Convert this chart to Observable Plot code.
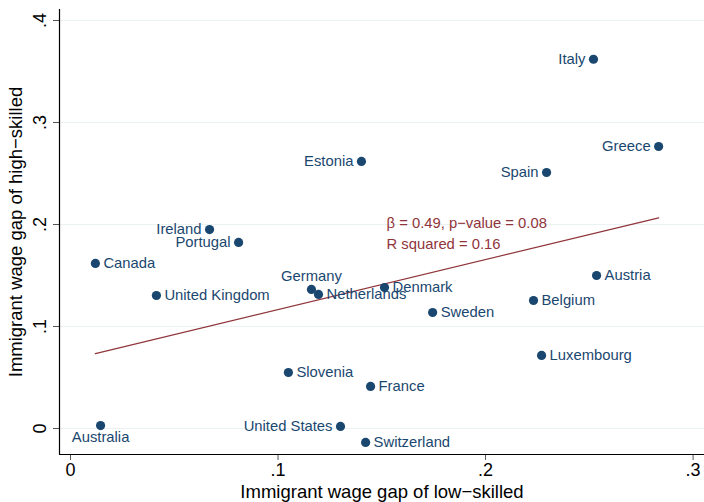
<!DOCTYPE html>
<html>
<head>
<meta charset="utf-8">
<script src="https://cdn.jsdelivr.net/npm/d3@7"></script>
<script src="https://cdn.jsdelivr.net/npm/@observablehq/plot@0.6"></script>
<style>
  html, body { margin: 0; padding: 0; background: #fff; }
  #chart svg { display: block; font-family: "Liberation Sans", Arial, Helvetica, sans-serif; }
</style>
</head>
<body>
<div id="chart"></div>
<script>
// Immigrant wage gaps by country: low-skilled (x) vs high-skilled (y)
const countries = ["Italy", "Greece", "Spain", "Estonia", "Ireland", "Portugal", "Canada",
  "United Kingdom", "Germany", "Netherlands", "Denmark", "Sweden", "Belgium", "Austria",
  "Luxembourg", "Slovenia", "France", "Australia", "United States", "Switzerland"];
const lowSkilledGap = [0.252, 0.2834, 0.2294, 0.1402, 0.067, 0.081, 0.012,
  0.0414, 0.1161, 0.1195, 0.1513, 0.1745, 0.2231, 0.2535,
  0.227, 0.105, 0.1446, 0.0145, 0.1301, 0.1422];
const highSkilledGap = [0.362, 0.2765, 0.251, 0.2618, 0.195, 0.1824, 0.1618,
  0.1304, 0.1363, 0.1314, 0.1382, 0.1137, 0.1255, 0.15,
  0.0716, 0.0549, 0.0412, 0.0029, 0.002, -0.0137];
// marker-label placement, clock style (9 = left, 3 = right, 12 = above, 6 = below)
const labelClock = [9, 9, 9, 9, 9, 9, 3,
  3, 12, 3, 3, 3, 3, 3,
  3, 3, 3, 6, 9, 3];

// fitted OLS line and its statistics
const beta = 0.49;
const intercept = 0.0676;
const pValue = 0.08;
const rSquared = 0.16;
const statsAnchor = { x: 0.1523, y: 0.201 };

const xTicks = [0, 0.1, 0.2, 0.3];
const yTicks = [0, 0.1, 0.2, 0.3, 0.4];

const navy = "#1a476f";
const maroon = "#90353b";

const points = countries.map((c, i) => ({
  country: c, low: lowSkilledGap[i], high: highSkilledGap[i], clock: labelClock[i]
}));

const [xMin, xMax] = d3.extent(lowSkilledGap);
const fitLine = [xMin, xMax].map(x => ({ x, y: intercept + beta * x }));

const fmt = d => d === 0 ? "0" : d3.format(".1f")(d).replace(/^0/, "");
const dxFor = c => c === 9 ? -8 : c === 3 ? 8 : 0;
const dyFor = c => c === 12 ? -13 : c === 6 ? 12 : 0;
const anchorFor = c => c === 9 ? "end" : c === 3 ? "start" : "middle";

const labelMarks = [9, 3, 12, 6].map(c =>
  Plot.text(points.filter(p => p.clock === c), {
    x: "low", y: "high", text: "country",
    dx: dxFor(c), dy: dyFor(c), textAnchor: anchorFor(c),
    fill: navy, fontSize: 14.8
  })
);

const statsText = `\u03B2 = ${beta.toFixed(2)}, p\u2212value = ${pValue.toFixed(2)}\nR squared = ${rSquared.toFixed(2)}`;

const chart = Plot.plot({
  width: 704,
  height: 502,
  marginLeft: 59,
  marginRight: 0,
  marginTop: 9,
  marginBottom: 48,
  style: { fontFamily: "Liberation Sans, Arial, sans-serif", background: "#fff" },
  x: { domain: [-0.0053, 0.3055] },
  y: { domain: [-0.0255, 0.4108] },
  marks: [
    Plot.ruleY(yTicks, { stroke: "#eaf2f3", strokeWidth: 1.2 }),
    Plot.axisX({ ticks: xTicks, tickFormat: fmt, tickSize: 6, tickPadding: 3,
      fontSize: 18, label: null, stroke: "#555", fill: "#000" }),
    Plot.axisY({ ticks: yTicks, tickFormat: fmt, tickSize: 6, tickPadding: 8,
      tickRotate: -90, fontSize: 18, label: null, stroke: "#555", fill: "#000" }),
    Plot.text(["Immigrant wage gap of low\u2212skilled"], {
      frameAnchor: "bottom", dy: 38, lineAnchor: "middle", textAnchor: "middle",
      fontSize: 18.5, fill: "#000"
    }),
    Plot.text(["Immigrant wage gap of high\u2212skilled"], {
      frameAnchor: "left", dx: -43, rotate: -90, textAnchor: "middle",
      lineAnchor: "middle", fontSize: 18.5, fill: "#000"
    }),
    Plot.ruleX([-0.0053], { stroke: "#000", strokeWidth: 1.2 }),
    Plot.ruleY([-0.0255], { stroke: "#000", strokeWidth: 1.2 }),
    Plot.line(fitLine, { x: "x", y: "y", stroke: maroon, strokeWidth: 1.3 }),
    Plot.dot(points, { x: "low", y: "high", r: 4.6, fill: navy, stroke: "none" }),
    ...labelMarks,
    Plot.text([statsText], {
      x: () => statsAnchor.x, y: () => statsAnchor.y,
      textAnchor: "start", lineAnchor: "top", lineHeight: 1.42,
      dy: -10, fill: maroon, fontSize: 14.8
    })
  ]
});

document.getElementById("chart").appendChild(chart);
</script>
</body>
</html>
